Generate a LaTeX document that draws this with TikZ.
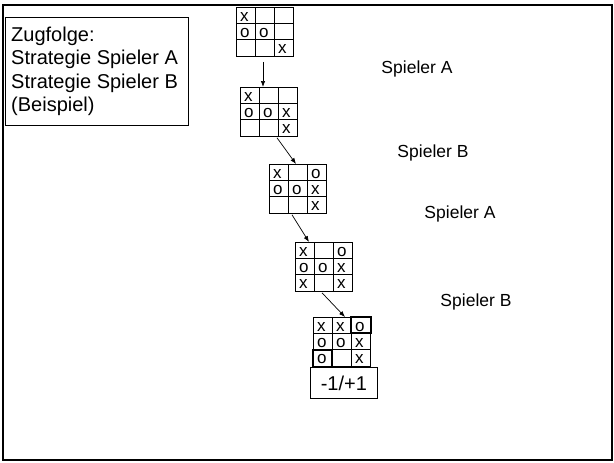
\documentclass[tikz,border=0pt]{standalone}
\usepackage{fontspec}
\setmainfont{Liberation Sans}
\usetikzlibrary{calc,arrows.meta}
\tikzset{
  board/.style={draw, line width=0.8pt, minimum width=57pt, minimum height=49pt, inner sep=0pt, anchor=north west},
  gridline/.style={line width=0.8pt},
  cellmark/.style={inner sep=0pt, anchor=base west, font=\fontsize{17}{17}\selectfont},
  thickcell/.style={line width=1.8pt},
  playerlabel/.style={inner sep=0pt, font=\fontsize{17.5}{17.5}\selectfont},
  movearrow/.style={line width=0.7pt, -{Latex[length=6pt,width=4.5pt]}},
  legendbox/.style={draw, line width=0.7pt, anchor=north west, minimum width=183pt, minimum height=108pt, inner sep=0pt},
  resultbox/.style={draw, line width=0.8pt, anchor=north west, minimum width=67pt, minimum height=31pt, inner sep=0pt, font=\fontsize{20}{20}\selectfont},
}
\newcommand\ttboard[3]{%
  \node[board] (#1) at (#2) {};
  \draw[gridline] ($(#1.north west)+(19,0)$) -- ($(#1.south west)+(19,0)$);
  \draw[gridline] ($(#1.north west)+(38,0)$) -- ($(#1.south west)+(38,0)$);
  \draw[gridline] ($(#1.north west)+(0,16.33)$) -- ($(#1.north east)+(0,16.33)$);
  \draw[gridline] ($(#1.north west)+(0,32.67)$) -- ($(#1.north east)+(0,32.67)$);
  \foreach \r/\c/\s in {#3} {
    \node[cellmark] (#1-\r-\c) at ($(#1.north west)+({\c*19+4},{\r*16.33+14})$) {\s};
  }
}
\begin{document}
\begin{tikzpicture}[x=1pt,y=-1pt]
\useasboundingbox (0,0) rectangle (614,463);
% outer frame
\draw[line width=2.5pt] (3,5) rectangle (612,460);
% legend
\node[legendbox] (legend) at (5,17) {};
\node[anchor=north west, inner sep=0pt, align=left, font=\fontsize{20}{23.5}\selectfont] (legendtext) at (11,26.5)
  {Zugfolge:\\Strategie Spieler A\\Strategie Spieler B\\(Beispiel)};
% boards
\ttboard{g1}{236,7}{0/0/x,1/0/o,1/1/o,2/2/x}
\ttboard{g2}{240,87}{0/0/x,1/0/o,1/1/o,1/2/x,2/2/x}
\ttboard{g3}{269,164}{0/0/x,0/2/o,1/0/o,1/1/o,1/2/x,2/2/x}
\ttboard{g4}{295,242}{0/0/x,0/2/o,1/0/o,1/1/o,1/2/x,2/0/x,2/2/x}
\ttboard{g5}{313,317}{0/0/x,0/1/x,0/2/o,1/0/o,1/1/o,1/2/x,2/0/o,2/2/x}
\draw[thickcell] ($(g5.north west)+(38,0)$) rectangle ($(g5.north east)+(0,16.33)$);
\draw[thickcell] ($(g5.north west)+(0,32.67)$) rectangle ($(g5.south west)+(19,0)$);
% result
\node[resultbox] (result) at (310,367) {-1/+1};
% player labels
\node[playerlabel] (la1) at (417,69) {Spieler A};
\node[playerlabel] (lb1) at (433,153) {Spieler B};
\node[playerlabel] (la2) at (460,214) {Spieler A};
\node[playerlabel] (lb2) at (476,302) {Spieler B};
% arrows
\coordinate (s1) at ($(g1.south west)+(27,5)$);
\coordinate (e1) at ($(g2.north west)+(23,0)$);
\coordinate (s2) at ($(g2.south west)+(37,1)$);
\coordinate (e2) at ($(g3.north west)+(27,0)$);
\coordinate (s3) at ($(g3.south west)+(23,1)$);
\coordinate (e3) at ($(g4.north west)+(14,0)$);
\coordinate (s4) at ($(g4.south west)+(27,1)$);
\coordinate (e4) at ($(g5.north west)+(32,0)$);
\draw[movearrow] (s1) -- (e1);
\draw[movearrow] (s2) -- (e2);
\draw[movearrow] (s3) -- (e3);
\draw[movearrow] (s4) -- (e4);
\end{tikzpicture}
\end{document}
